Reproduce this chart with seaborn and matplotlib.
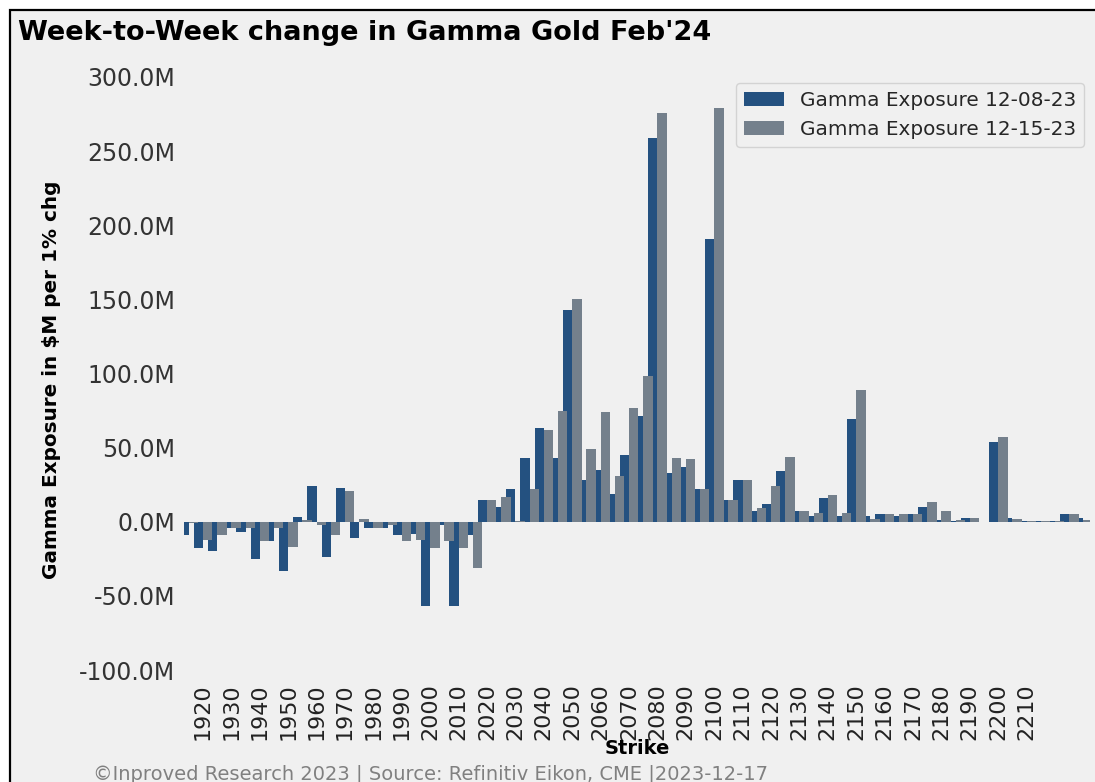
import matplotlib
matplotlib.use("Agg")
import matplotlib.pyplot as plt
from matplotlib.patches import Rectangle
from matplotlib.ticker import FuncFormatter
import pandas as pd
import seaborn as sns

# strikes (every 5) and gamma exposure in $M per 1% change
strikes = [1915, 1920, 1925, 1930, 1935, 1940, 1945, 1950, 1955, 1960,
           1965, 1970, 1975, 1980, 1985, 1990, 1995, 2000, 2005, 2010,
           2015, 2020, 2025, 2030, 2035, 2040, 2045, 2050, 2055, 2060,
           2065, 2070, 2075, 2080, 2085, 2090, 2095, 2100, 2105, 2110,
           2115, 2120, 2125, 2130, 2135, 2140, 2145, 2150, 2155, 2160,
           2165, 2170, 2175, 2180, 2185, 2190, 2195, 2200, 2205, 2210,
           2215, 2220, 2225, 2230]

gamma_1208 = [-9, -18, -20, -4, -7, -25, -13, -33, 3, 24,
              -24, 23, -11, -4, -4, -9, -8, -57, -2, -57,
              -9, 15, 10, 22, 43, 63, 43, 143, 28, 35,
              19, 45, 71, 259, 33, 37, 22, 191, 15, 28,
              7, 12, 34, 7, 4, 16, 4, 69, 4, 5,
              4, 5, 10, 1, 0.5, 2.5, 0, 54, 2.5, 0.5,
              0.5, 0.5, 5.5, 2.5]

gamma_1215 = [-1, -12, -9, -4, -4, -13, -4, -17, 1, -2,
              -9, 21, 2, -4, -2, -13, -12, -18, -13, -18,
              -31, 15, 17, 0.5, 22, 62, 75, 150, 49, 74,
              31, 77, 98, 276, 43, 42, 22, 279, 15, 28,
              9, 24, 44, 7, 6, 18, 6, 89, 2, 5,
              5, 5, 13, 7, 1, 2.5, 0, 57, 2, 0.5,
              0.5, 0.5, 5.5, 1]

series_names = ["Gamma Exposure 12-08-23", "Gamma Exposure 12-15-23"]
series_colors = ["#15508f", "#708090"]
xtick_strikes = strikes[1:60:2]
yticks_m = [-100, -50, 0, 50, 100, 150, 200, 250, 300]

df = pd.DataFrame({
    "Strike": strikes + strikes,
    "gamma": gamma_1208 + gamma_1215,
    "series": [series_names[0]] * len(strikes) + [series_names[1]] * len(strikes),
})

sns.set_style("white", rc={"axes.facecolor": "#f0f0f0"})
plt.rcParams["font.family"] = ["DejaVu Sans"]

fig = plt.figure(figsize=(10.95, 7.82), dpi=100, facecolor="white")
# light panel with a black frame, as in the screenshot
fig.add_artist(Rectangle((10 / 1095, -0.1), 2, 1 - 10 / 782 + 0.1,
                         transform=fig.transFigure, facecolor="#f0f0f0",
                         edgecolor="black", linewidth=1.6, zorder=-1))

ax = fig.add_axes([184 / 1095, 1 - 670 / 782, 906 / 1095, 593 / 782])
sns.barplot(data=df, x="Strike", y="gamma", hue="series", hue_order=series_names,
            palette=series_colors, native_scale=True, width=1.31,
            errorbar=None, linewidth=0, ax=ax)

ax.set_xlim(1913.3, 2232.3)
ax.set_ylim(-100, 300)
ax.set_yticks(yticks_m)
ax.yaxis.set_major_formatter(FuncFormatter(lambda v, p: f"{v:.1f}M"))
ax.set_xticks(xtick_strikes)
ax.set_xticklabels([str(s) for s in xtick_strikes], rotation=90)
ax.tick_params(axis="y", length=0, pad=6.5, labelsize=17, labelcolor="#333333")
ax.tick_params(axis="x", length=0, pad=9.5, labelsize=16, labelcolor="#222222")
sns.despine(ax=ax, left=True, bottom=True)

ax.set_ylabel("Gamma Exposure in $M per 1% chg", fontsize=14.4,
              fontweight="bold", color="black")
ax.yaxis.set_label_coords(-0.136, 0.489)
ax.set_xlabel("Strike", fontsize=14, fontweight="bold", va="top", color="black")
ax.xaxis.set_label_coords(0.5, -0.1165)

sns.move_legend(ax, "upper right", title=None, fontsize=14.4, borderaxespad=0.3)

fig.text(18 / 1095, 1 - 33 / 782, "Week-to-Week change in Gamma Gold Feb'24",
         fontsize=19.5, fontweight="bold", color="black", ha="left", va="center")
fig.text(93 / 1095, -0.002,
         "\u00a9Inproved Research 2023 | Source: Refinitiv Eikon, CME |2023-12-17",
         fontsize=14, color="#808080", ha="left", va="bottom")

fig.savefig("out.png", dpi=100, facecolor="white")
